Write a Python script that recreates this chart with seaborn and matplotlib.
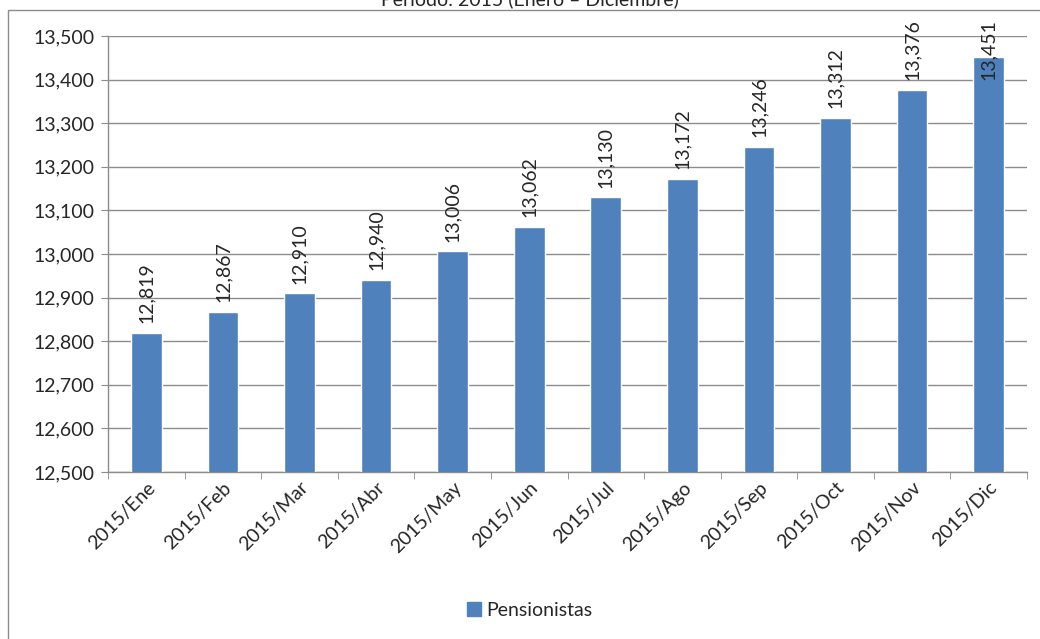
import seaborn as sns
import pandas as pd
import matplotlib.pyplot as plt
from matplotlib.patches import Rectangle
from matplotlib.ticker import FuncFormatter, FixedLocator

# Data
months = ['2015/Ene', '2015/Feb', '2015/Mar', '2015/Abr', '2015/May', '2015/Jun',
          '2015/Jul', '2015/Ago', '2015/Sep', '2015/Oct', '2015/Nov', '2015/Dic']
pensionistas = [12819, 12867, 12910, 12940, 13006, 13062,
                13130, 13172, 13246, 13312, 13376, 13451]

data_df = pd.DataFrame({'mes': months, 'Pensionistas': pensionistas})

sns.set_style('white')
plt.rcParams['font.family'] = ['Lato', 'DejaVu Sans']

fig = plt.figure(figsize=(10.4, 6.39), dpi=100)
ax = fig.add_axes([108 / 1040, 1 - 472 / 639, (1027 - 108) / 1040, (472 - 36) / 639])

bar_color = '#4F81BD'
grid_color = '#8C8C8C'
fs = 14

sns.barplot(data=data_df, x='mes', y='Pensionistas', color=bar_color, width=0.4,
            saturation=1, ax=ax, zorder=3)

ax.set_ylim(12500, 13500)
ax.set_xlim(-0.5, len(months) - 0.5)
ax.set_yticks(range(12500, 13501, 100))
ax.yaxis.set_major_formatter(FuncFormatter(lambda v, p: f'{int(v):,}'))
ax.grid(axis='y', color=grid_color, linewidth=1, zorder=0)
ax.set_axisbelow(True)

# x ticks between categories
ax.tick_params(axis='x', which='major', length=0, labelsize=fs, pad=5)
ax.xaxis.set_minor_locator(FixedLocator([i - 0.5 for i in range(len(months) + 1)]))
ax.tick_params(axis='x', which='minor', length=5, color=grid_color, direction='out')
ax.tick_params(axis='y', length=5, color=grid_color, direction='out', labelsize=fs, pad=5)
ax.xaxis.set_tick_params(bottom=True, which='both')
ax.yaxis.set_tick_params(left=True)
plt.setp(ax.get_xticklabels(), rotation=45, ha='right', rotation_mode='anchor')

for s in ['top', 'right']:
    ax.spines[s].set_visible(False)
for s in ['left', 'bottom']:
    ax.spines[s].set_color(grid_color)
    ax.spines[s].set_linewidth(1)

ax.set_xlabel('')
ax.set_ylabel('')

# data labels (last one sits inside the bar)
for i, v in enumerate(pensionistas):
    off = -16 if i == len(pensionistas) - 1 else 7
    ax.annotate(f'{v:,}', (i, v), xytext=(0, off), textcoords='offset points',
                rotation=90, ha='center', va='bottom', fontsize=fs)

# legend
handle = Rectangle((0, 0), 1, 1, color=bar_color)
fig.legend([handle], ['Pensionistas'], loc='center', bbox_to_anchor=(530 / 1040, 1 - 610 / 639),
           frameon=False, fontsize=fs, handlelength=0.7, handleheight=0.7, handletextpad=0.3)

# title, cut off at the top like the reference
fig.text(530 / 1040, 1 - 5 / 639, 'Periodo: 2015 (Enero \u2013 Diciembre)', ha='center',
         va='baseline', fontsize=fs)

# chart border
fig.patches.append(Rectangle((8 / 1040, -0.1), 1.1, 1.1 - 10 / 639, transform=fig.transFigure,
                             fill=False, edgecolor=grid_color, linewidth=1))

plt.savefig('out.png', dpi=100)
